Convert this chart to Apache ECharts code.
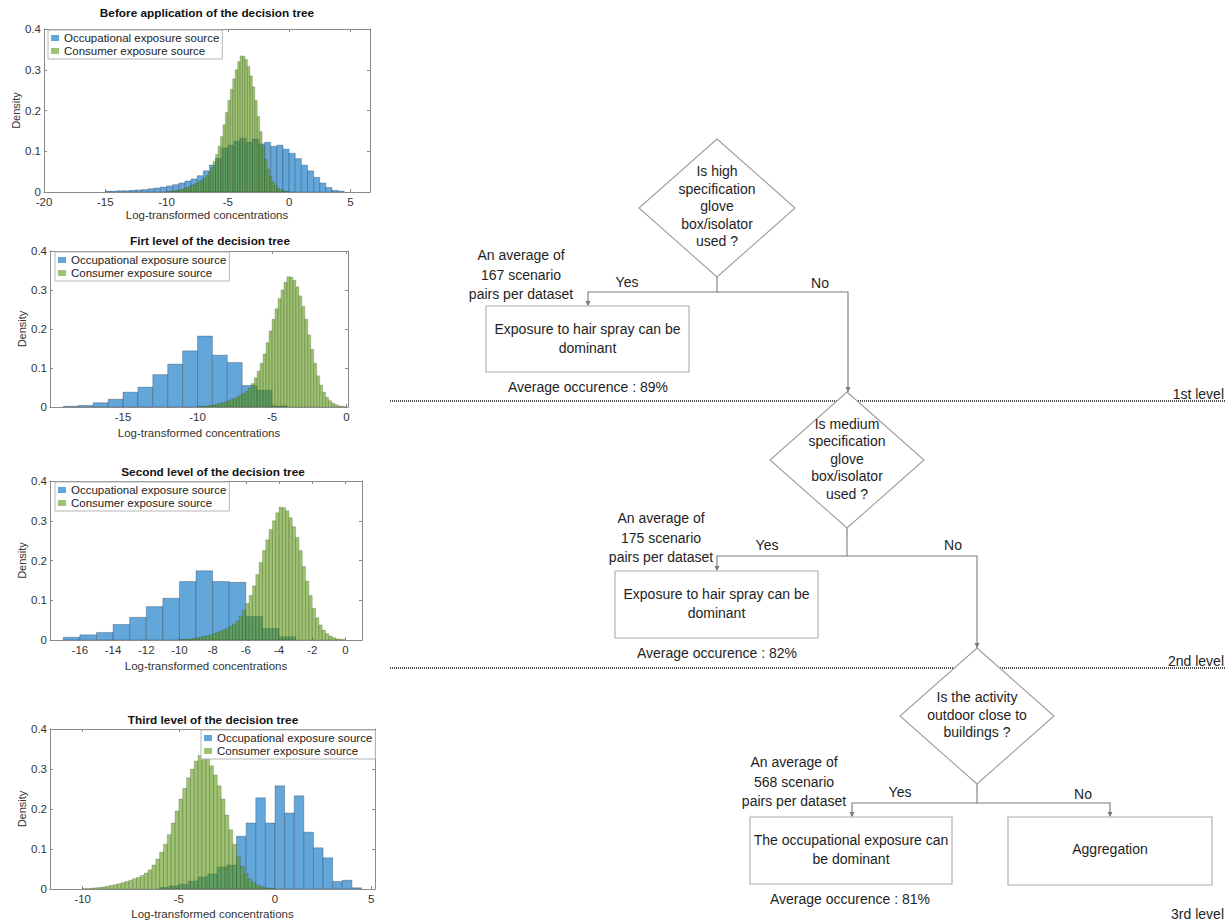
<!DOCTYPE html>
<html>
<head>
<meta charset="utf-8">
<title>Decision tree and exposure distributions</title>
<script src="https://cdn.jsdelivr.net/npm/echarts@6/dist/echarts.min.js"></script>
<style>
  html, body { margin: 0; padding: 0; background: #ffffff; }
  #chart { width: 1226px; height: 921px; }
</style>
</head>
<body>
<div id="chart"></div>
<script>
// ---------- histogram data (density per bin) ----------
const seriesNames = ['Occupational exposure source', 'Consumer exposure source'];

// Consumer source: same distribution at every level, 0.2-wide bins from -10
const consumerStart = -10;
const consumerWidth = 0.2;
const consumerDensity = [
  0.001, 0.001, 0.002, 0.003, 0.004, 0.005, 0.007, 0.009, 0.011, 0.013,
  0.016, 0.019, 0.022, 0.026, 0.029, 0.034, 0.040, 0.048, 0.060, 0.075,
  0.092, 0.112, 0.136, 0.165, 0.195, 0.225, 0.252, 0.278, 0.300, 0.320,
  0.334, 0.333, 0.325, 0.308, 0.285, 0.258, 0.225, 0.185, 0.148, 0.112,
  0.080, 0.056, 0.038, 0.025, 0.016, 0.010, 0.006, 0.003, 0.002, 0.001
];

// Occupational source before the tree: 0.5-wide bins from -15
const occBeforeStart = -15;
const occBeforeWidth = 0.5;
const occBeforeDensity = [
  0.002, 0.002, 0.003, 0.003, 0.004, 0.005, 0.006, 0.008, 0.010, 0.012,
  0.015, 0.018, 0.022, 0.027, 0.032, 0.040, 0.052, 0.066, 0.082, 0.108,
  0.115, 0.125, 0.132, 0.122, 0.130, 0.118, 0.122, 0.112, 0.115, 0.105,
  0.095, 0.082, 0.066, 0.052, 0.036, 0.022, 0.011, 0.004, 0.002
];

// Occupational source, first level: unit bins from -19
const occLevel1Start = -19;
const occLevel1Width = 1;
const occLevel1Density = [
  0.002, 0.004, 0.011, 0.020, 0.038, 0.051, 0.083, 0.110, 0.144, 0.182,
  0.133, 0.114, 0.055, 0.043, 0.003
];

// Occupational source, second level: unit bins from -17
const occLevel2Start = -17;
const occLevel2Width = 1;
const occLevel2Density = [
  0.007, 0.013, 0.019, 0.039, 0.057, 0.084, 0.105, 0.147, 0.174, 0.147,
  0.145, 0.059, 0.029, 0.008
];

// Occupational source, third level: 0.5-wide bins from -6
const occLevel3Start = -6;
const occLevel3Width = 0.5;
const occLevel3Density = [
  0.004, 0.008, 0.012, 0.020, 0.030, 0.038, 0.055, 0.060,
  0.132, 0.165, 0.228, 0.165, 0.258, 0.190, 0.233, 0.142, 0.103, 0.078,
  0.019, 0.022, 0.003
];

// Axis tick labels
const xTicksBefore = [-20, -15, -10, -5, 0, 5];
const xTicksLevel1 = [-15, -10, -5, 0];
const xTicksLevel2 = [-16, -14, -12, -10, -8, -6, -4, -2, 0];
const xTicksLevel3 = [-10, -5, 0, 5];

const panelTitles = [
  'Before application of the decision tree',
  'Firt level of the decision tree',
  'Second level of the decision tree',
  'Third level of the decision tree'
];

// ---------- decision tree text ----------
const questions = [
  'Is high\nspecification\nglove\nbox/isolator\nused ?',
  'Is medium\nspecification\nglove\nbox/isolator\nused ?',
  'Is the activity\noutdoor close to\nbuildings ?'
];
const pairCounts = [167, 175, 568];
const occurrencePct = [89, 82, 81];
const outcomes = [
  'Exposure to hair spray can be\ndominant',
  'Exposure to hair spray can be\ndominant',
  'The occupational exposure can\nbe dominant'
];
const finalOutcome = 'Aggregation';
const levelLabels = ['1st level', '2nd level', '3rd level'];

// ---------- helpers ----------
const FONT = '"Liberation Sans", Arial, Helvetica, sans-serif';
const BLUE = '#63a6d9';
const BLUE_EDGE = 'rgba(30,45,60,0.5)';
const GREEN = 'rgba(95,155,20,0.6)';
const GREEN_EDGE = 'rgba(35,55,20,0.35)';
const AXIS_COLOR = '#8a8a8a';

function toBins(start, width, heights) {
  return heights.map((h, i) => [start + i * width, start + (i + 1) * width, h]);
}

function histRenderer(fill, edge) {
  return function (params, api) {
    const x0 = api.value(0), x1 = api.value(1), h = api.value(2);
    const pTop = api.coord([x0, h]);
    const pBot = api.coord([x1, 0]);
    return {
      type: 'rect',
      shape: { x: pTop[0], y: pTop[1], width: pBot[0] - pTop[0], height: pBot[1] - pTop[1] },
      style: { fill: fill, stroke: edge, lineWidth: 0.6 }
    };
  };
}

// Layout of the four histogram panels
const panels = [
  { grid: { left: 44, top: 29, width: 326, height: 163 }, xMin: -20, xMax: 6.6, ticks: xTicksBefore,
    occ: [occBeforeStart, occBeforeWidth, occBeforeDensity], titleX: 207, titleY: 13,
    legend: { left: 48, top: 30 }, xNameGap: 17, yNameGap: 21 },
  { grid: { left: 50, top: 251, width: 298, height: 156 }, xMin: -19.9, xMax: 0.1, ticks: xTicksLevel1,
    occ: [occLevel1Start, occLevel1Width, occLevel1Density], titleX: 210, titleY: 241,
    legend: { left: 55, top: 252 }, xNameGap: 20, yNameGap: 22 },
  { grid: { left: 50, top: 481, width: 312, height: 159 }, xMin: -17.8, xMax: 1, ticks: xTicksLevel2,
    occ: [occLevel2Start, occLevel2Width, occLevel2Density], titleX: 213, titleY: 472,
    legend: { left: 55, top: 482 }, xNameGap: 20, yNameGap: 22 },
  { grid: { left: 50, top: 729, width: 325, height: 160 }, xMin: -11.7, xMax: 5.2, ticks: xTicksLevel3,
    occ: [occLevel3Start, occLevel3Width, occLevel3Density], titleX: 213, titleY: 720,
    legend: { left: 201, top: 730 }, xNameGap: 19, yNameGap: 22 }
];

const grids = [], xAxes = [], yAxes = [], series = [], legends = [];
const topAxes = [], rightAxes = [];

panels.forEach((p, i) => {
  grids.push(Object.assign({ containLabel: false }, p.grid));
  xAxes.push({
    type: 'value', gridIndex: i, position: 'bottom', min: p.xMin, max: p.xMax,
    name: 'Log-transformed concentrations', nameLocation: 'middle', nameGap: p.xNameGap,
    nameTextStyle: { fontFamily: FONT, fontSize: 11.5, color: '#333' },
    axisLine: { show: true, onZero: false, lineStyle: { color: AXIS_COLOR, width: 1 } },
    axisTick: { show: true, inside: true, length: 3, customValues: p.ticks, lineStyle: { color: AXIS_COLOR } },
    axisLabel: { customValues: p.ticks, margin: 4, fontFamily: FONT, fontSize: 11.5, color: '#333' },
    splitLine: { show: false }
  });
  topAxes.push({
    type: 'value', gridIndex: i, position: 'top', min: p.xMin, max: p.xMax,
    axisLine: { show: true, onZero: false, lineStyle: { color: AXIS_COLOR, width: 1 } },
    axisTick: { show: true, inside: true, length: 3, customValues: p.ticks, lineStyle: { color: AXIS_COLOR } },
    axisLabel: { show: false }, splitLine: { show: false }
  });
  yAxes.push({
    type: 'value', gridIndex: i, position: 'left', min: 0, max: 0.4, interval: 0.1,
    name: 'Density', nameLocation: 'middle', nameGap: p.yNameGap, nameRotate: 90,
    nameTextStyle: { fontFamily: FONT, fontSize: 11, color: '#333' },
    axisLine: { show: true, onZero: false, lineStyle: { color: AXIS_COLOR, width: 1 } },
    axisTick: { show: true, inside: true, length: 3, lineStyle: { color: AXIS_COLOR } },
    axisLabel: { margin: 3, fontFamily: FONT, fontSize: 11.5, color: '#333',
      formatter: v => (v === 0 ? '0' : v.toFixed(1)) },
    splitLine: { show: false }
  });
  rightAxes.push({
    type: 'value', gridIndex: i, position: 'right', min: 0, max: 0.4, interval: 0.1,
    axisLine: { show: true, onZero: false, lineStyle: { color: AXIS_COLOR, width: 1 } },
    axisTick: { show: true, inside: true, length: 3, lineStyle: { color: AXIS_COLOR } },
    axisLabel: { show: false }, splitLine: { show: false }
  });

  series.push({
    type: 'custom', name: seriesNames[0], xAxisIndex: i, yAxisIndex: i,
    renderItem: histRenderer(BLUE, BLUE_EDGE),
    data: toBins(p.occ[0], p.occ[1], p.occ[2]),
    encode: { x: [0, 1], y: 2 }, itemStyle: { color: BLUE }, clip: true, z: 2, silent: true
  });
  series.push({
    type: 'custom', name: seriesNames[1], xAxisIndex: i, yAxisIndex: i,
    renderItem: histRenderer(GREEN, GREEN_EDGE),
    data: toBins(consumerStart, consumerWidth, consumerDensity),
    encode: { x: [0, 1], y: 2 }, itemStyle: { color: GREEN }, clip: true, z: 3, silent: true
  });

  legends.push({
    left: p.legend.left, top: p.legend.top, orient: 'vertical', selectedMode: false,
    data: seriesNames.map(n => ({ name: n, icon: 'rect' })),
    itemWidth: 8, itemHeight: 6, itemGap: 1, padding: [2, 3],
    backgroundColor: '#ffffff', borderColor: '#b5b5b5', borderWidth: 1,
    textStyle: { fontFamily: FONT, fontSize: 11.5, color: '#222' }
  });
});

// ---------- decision tree drawing ----------
const LINE = '#7a7a7a';
const TXT = '#1e1e1e';
const TREE_FONT_SIZE = 14;
const g = [];

function text(str, x, y, opts) {
  const o = opts || {};
  g.push({
    type: 'text', x: x, y: y, z: 10,
    style: {
      text: str, fill: TXT, fontFamily: FONT, fontSize: o.size || TREE_FONT_SIZE,
      align: o.align || 'center', verticalAlign: 'middle',
      textAlign: o.align || 'center', textVerticalAlign: 'middle',
      lineHeight: o.lh || 18
    }
  });
}
function poly(points, z) {
  g.push({ type: 'polyline', z: z || 5, shape: { points: points }, style: { stroke: LINE, lineWidth: 1.1, fill: null } });
}
function arrowDown(x, y) {
  g.push({ type: 'polygon', z: 6, shape: { points: [[x - 2.5, y - 5], [x + 2.5, y - 5], [x, y]] }, style: { fill: LINE } });
}
function diamond(cx, cy, hw, hh) {
  g.push({ type: 'polygon', z: 4, shape: { points: [[cx, cy - hh], [cx + hw, cy], [cx, cy + hh], [cx - hw, cy]] },
    style: { fill: '#ffffff', stroke: '#9d9d9d', lineWidth: 1.1 } });
}
function box(x, y, w, h) {
  g.push({ type: 'rect', z: 4, shape: { x: x, y: y, width: w, height: h },
    style: { fill: '#ffffff', stroke: '#ababab', lineWidth: 1.1 } });
}
function dotted(y) {
  g.push({ type: 'line', z: 3, shape: { x1: 390, y1: y, x2: 1226, y2: y },
    style: { stroke: '#4d4d4d', lineWidth: 2, lineDash: [1, 1] } });
}

// level separators
dotted(401);
dotted(668);

// Level 1
diamond(717, 208, 78, 69);
text(questions[0], 717, 206, { lh: 17.5 });
poly([[717, 277], [717, 292]]);
poly([[588, 305], [588, 292], [848, 292], [848, 392]]);
arrowDown(588, 306);
arrowDown(848, 392);
text('Yes', 627, 282);
text('No', 820, 283);
text('An average of\n' + pairCounts[0] + ' scenario\npairs per dataset', 521, 274.5, { lh: 19.5 });
box(486, 306, 203, 66);
text(outcomes[0], 587.5, 338, { lh: 19 });
text('Average occurence : ' + occurrencePct[0] + '%', 588, 387);
text(levelLabels[0], 1224, 394, { align: 'right' });

// Level 2
diamond(847, 460, 77, 68);
text(questions[1], 847, 458.5, { lh: 17.5 });
poly([[847, 528], [847, 556]]);
poly([[717, 570], [717, 556], [977, 556], [977, 648]]);
arrowDown(717, 571);
arrowDown(977, 648);
text('Yes', 767, 545);
text('No', 953, 545);
text('An average of\n' + pairCounts[1] + ' scenario\npairs per dataset', 661, 537.5, { lh: 19.5 });
box(615, 571, 203, 67);
text(outcomes[1], 716.5, 603, { lh: 19 });
text('Average occurence : ' + occurrencePct[1] + '%', 717, 653);
text(levelLabels[1], 1224, 661, { align: 'right' });

// Level 3
diamond(977, 716, 77, 68);
text(questions[2], 977, 714.5, { lh: 17.5 });
poly([[977, 784], [977, 803]]);
poly([[852, 816], [852, 803], [1110, 803], [1110, 816]]);
arrowDown(852, 817);
arrowDown(1110, 817);
text('Yes', 900, 792);
text('No', 1083, 794);
text('An average of\n' + pairCounts[2] + ' scenario\npairs per dataset', 794, 781.5, { lh: 19.5 });
box(750, 817, 202, 67);
text(outcomes[2], 851, 849.5, { lh: 19 });
box(1008, 817, 204, 68);
text(finalOutcome, 1110, 849);
text('Average occurence : ' + occurrencePct[2] + '%', 850, 899);
text(levelLabels[2], 1224, 914, { align: 'right' });

// Panel titles
panels.forEach((p, i) => {
  g.push({ type: 'text', x: p.titleX, y: p.titleY, z: 10,
    style: { text: panelTitles[i], fill: '#111', fontFamily: FONT, fontSize: 11.8, fontWeight: 'bold',
      align: 'center', verticalAlign: 'middle', textAlign: 'center', textVerticalAlign: 'middle' } });
});

const chart = echarts.init(document.getElementById('chart'), null, { renderer: 'svg', width: 1226, height: 921 });
chart.setOption({
  animation: false,
  backgroundColor: '#ffffff',
  grid: grids,
  xAxis: xAxes.concat(topAxes),
  yAxis: yAxes.concat(rightAxes),
  legend: legends,
  series: series,
  graphic: { elements: g }
});
</script>
</body>
</html>
